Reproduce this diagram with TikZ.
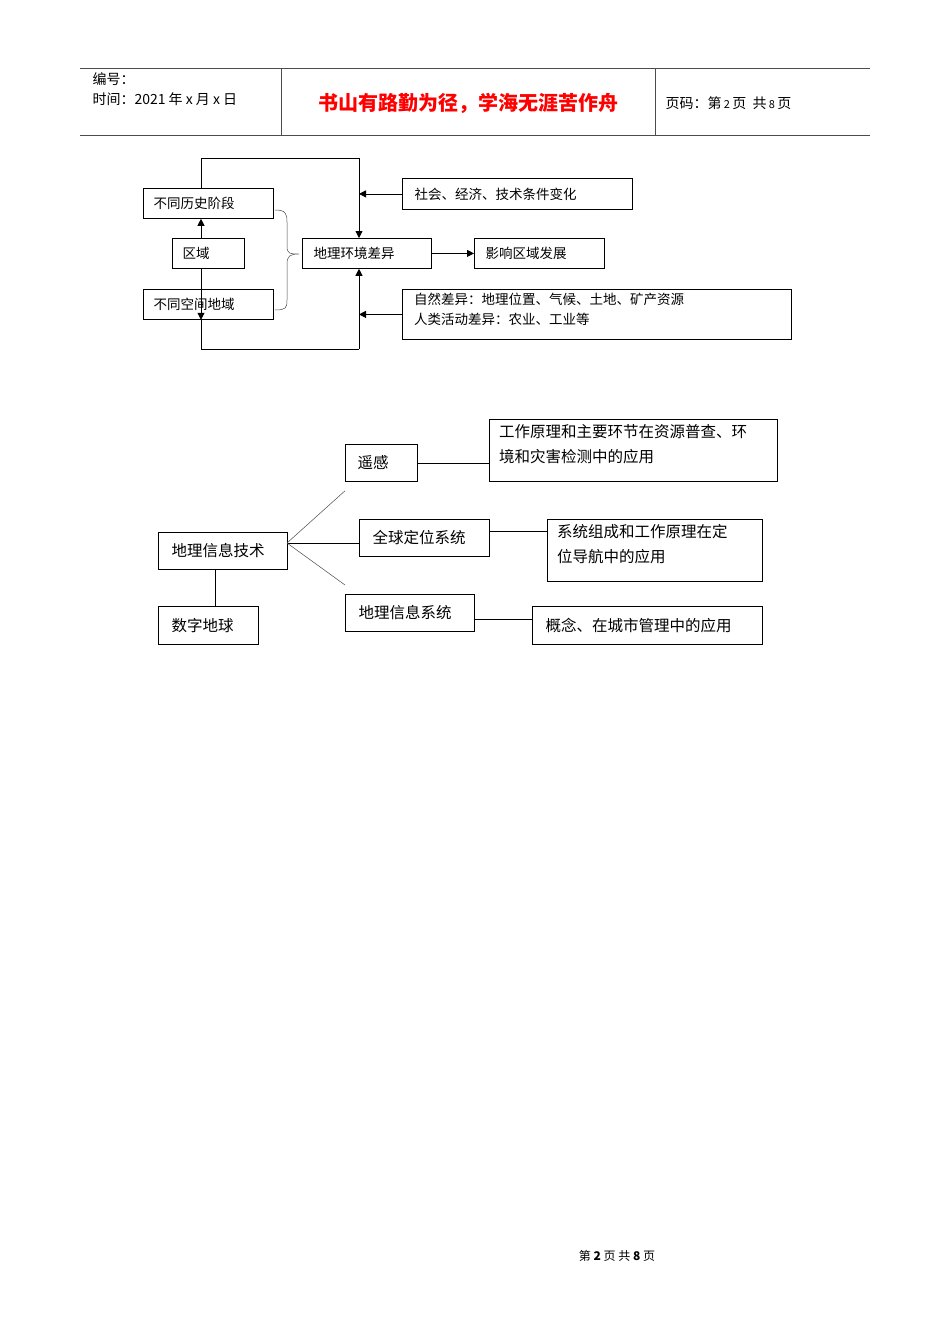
\documentclass[tikz,border=0pt]{standalone}
\usepackage{fontspec}
\setmainfont{Liberation Sans}
\newfontfamily\cjk{Noto Sans CJK SC}
\usetikzlibrary{arrows.meta,decorations.pathreplacing}
\begin{document}
\begin{tikzpicture}[x=1pt,y=-1pt,
  boxa/.style={draw,line width=0.8pt,anchor=north west,inner sep=0pt,font=\cjk\fontsize{13.5}{20}\selectfont},
  boxb/.style={draw,line width=0.8pt,anchor=north west,inner sep=0pt,font=\cjk\fontsize{15.5}{25}\selectfont},
  arr/.style={-{Triangle[length=7pt,width=7pt]},line width=0.8pt},
  ln/.style={line width=0.8pt},
  thin/.style={line width=0.5pt,black!70}]
\useasboundingbox[fill=white] (0,0) rectangle (950,1344);
% header
\draw[line width=0.8pt,black!70] (80,68) -- (870,68) (80,135) -- (870,135) (281,68) -- (281,135) (655,68) -- (655,135);
\node[anchor=west,font=\cjk\fontsize{14}{16}\selectfont] (h1) at (89,79) {编号：};
\node[anchor=west,font=\cjk\fontsize{14}{16}\selectfont] (h2) at (89,99) {时间：2021 年 x 月 x 日};
\node[font=\cjk\bfseries\fontsize{20}{24}\selectfont,text=red] (title) at (468,103) {书山有路勤为径，学海无涯苦作舟};
\node[anchor=west,font=\cjk\fontsize{14}{16}\selectfont] (h3) at (662,103) {页码：第\,{\fontsize{11}{12}\selectfont 2}\,页\ \ 共\,{\fontsize{11}{12}\selectfont 8}\,页};
% diagram 1
\node[boxa,minimum width=130,minimum height=30] (ls) at (143,188) {};
\node[anchor=west,font=\cjk\fontsize{13.5}{16}\selectfont] at ([xshift=7]ls.west) {不同历史阶段};
\node[boxa,minimum width=72,minimum height=30] (qy) at (172,238) {};
\node[anchor=west,font=\cjk\fontsize{13.5}{16}\selectfont] at ([xshift=7]qy.west) {区域};
\node[boxa,minimum width=130,minimum height=30] (kj) at (143,289) {};
\node[anchor=west,font=\cjk\fontsize{13.5}{16}\selectfont] at ([xshift=7]kj.west) {不同空间地域};
\node[boxa,minimum width=129,minimum height=30] (hj) at (302,238) {};
\node[anchor=west,font=\cjk\fontsize{13.5}{16}\selectfont] at ([xshift=8]hj.west) {地理环境差异};
\node[boxa,minimum width=130,minimum height=30] (yx) at (474,238) {};
\node[anchor=west,font=\cjk\fontsize{13.5}{16}\selectfont] at ([xshift=8]yx.west) {影响区域发展};
\node[boxa,minimum width=230,minimum height=31] (sh) at (402,178) {};
\node[anchor=west,font=\cjk\fontsize{13.5}{16}\selectfont] at ([xshift=9]sh.west) {社会、经济、技术条件变化};
\node[boxa,minimum width=389,minimum height=50] (zr) at (402,289) {};
\node[anchor=north west,align=left,font=\cjk\fontsize{13.5}{20}\selectfont,inner sep=0pt] at (414,293) {自然差异：地理位置、气候、土地、矿产资源\\人类活动差异：农业、工业等};
\coordinate (t1) at (201,158); \coordinate (t2) at (359,158);
\coordinate (b1) at (201,349); \coordinate (b2) at (359,349);
\draw[ln] (ls.north -| t1) -- (t1) -- (t2);
\draw[arr] (t2) -- (hj.north -| t2);
\draw[ln] (kj.south -| b1) -- (b1) -- (b2);
\draw[arr] (b2) -- (hj.south -| b2);
\draw[arr] (sh.west) -- (sh.west -| t2);
\draw[arr] (zr.west) -- (zr.west -| t2);
\draw[arr] (qy.north -| t1) -- (ls.south -| t1);
\draw[arr] (qy.south -| t1) -- (kj.south -| t1 |- kj.north);
\draw[arr] (hj.east) -- (yx.west);
\draw[line width=0.5pt,black!70] (275,210) .. controls (286,210) and (287,214) .. (287,222) -- (287,246) .. controls (287,254) and (290,254) .. (299,254)
  .. controls (290,254) and (287,256) .. (287,264) -- (287,300) .. controls (287,308) and (286,310) .. (275,310);
% diagram 2
\node[boxb,minimum width=72,minimum height=37] (yg) at (345,444) {};
\node[anchor=west,font=\cjk\fontsize{15.5}{18}\selectfont] at ([xshift=9]yg.west) {遥感};
\node[boxb,minimum width=288,minimum height=62] (yg2) at (489,419) {};
\node[anchor=north west,align=left,font=\cjk\fontsize{15.5}{25}\selectfont,inner sep=0pt] at (499,424) {工作原理和主要环节在资源普查、环\\境和灾害检测中的应用};
\node[boxb,minimum width=129,minimum height=37] (gi) at (158,532) {};
\node[anchor=west,font=\cjk\fontsize{15.5}{18}\selectfont] at ([xshift=10]gi.west) {地理信息技术};
\node[boxb,minimum width=130,minimum height=37] (gp) at (359,519) {};
\node[anchor=west,font=\cjk\fontsize{15.5}{18}\selectfont] at ([xshift=10]gp.west) {全球定位系统};
\node[boxb,minimum width=215,minimum height=62] (gp2) at (547,519) {};
\node[anchor=north west,align=left,font=\cjk\fontsize{15.5}{25}\selectfont,inner sep=0pt] at (557,524) {系统组成和工作原理在定\\位导航中的应用};
\node[boxb,minimum width=129,minimum height=37] (gs) at (345,594) {};
\node[anchor=west,font=\cjk\fontsize{15.5}{18}\selectfont] at ([xshift=10]gs.west) {地理信息系统};
\node[boxb,minimum width=230,minimum height=38] (gs2) at (532,606) {};
\node[anchor=west,font=\cjk\fontsize{15.5}{18}\selectfont] at ([xshift=10]gs2.west) {概念、在城市管理中的应用};
\node[boxb,minimum width=100,minimum height=38] (dq) at (158,606) {};
\node[anchor=west,font=\cjk\fontsize{15.5}{18}\selectfont] at ([xshift=10]dq.west) {数字地球};
\coordinate (fo) at (287,543);
\draw[thin] (fo) -- ([yshift=-9]yg.south west);
\draw[ln] (fo) -- (gp.west |- fo);
\draw[thin] (fo) -- ([yshift=9]gs.north west);
\draw[ln] (yg.east) -- (yg.east -| yg2.west);
\draw[ln] (gp.east |- 0,531) -- (gp2.west |- 0,531);
\draw[ln] (gs.east |- 0,619) -- (gs2.west |- 0,619);
\draw[ln] (gi.south -| 215,0) -- (dq.north -| 215,0);
% footer
\node[font=\cjk\fontsize{12}{14}\selectfont] (ft) at (617,1256) {第 \textbf{2} 页 共 \textbf{8} 页};
\end{tikzpicture}
\end{document}
